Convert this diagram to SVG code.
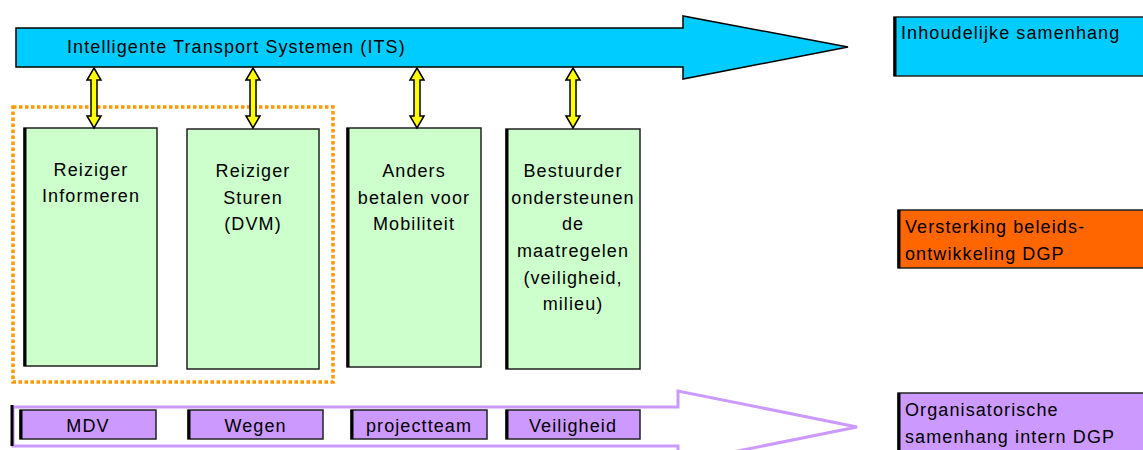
<svg xmlns="http://www.w3.org/2000/svg" width="1143" height="450" viewBox="0 0 1143 450">
<style>
text{font-family:"Liberation Sans",Arial,sans-serif;font-size:18px;letter-spacing:1.1px;fill:#000}
.c{text-anchor:middle}
.green{fill:#CCFFCC;stroke:#222;stroke-width:1.5}
.purple{fill:#CC99FF;stroke:#222;stroke-width:1.5}
.shadow{stroke:#000;stroke-width:3}
.dbl{fill:#FFFF00;stroke:#000;stroke-width:1.5;stroke-linejoin:miter}
</style>
<rect width="1143" height="450" fill="#fff"/>

<g id="its-arrow">
<polygon points="16,28 683,28 683,16 848,47 683,79 683,67 16,67" fill="#00CCFF" stroke="#000" stroke-width="1.5"/>
<text x="67" y="53">Intelligente Transport Systemen (ITS)</text>
</g>

<g id="org-arrow">
<polygon points="13,407 678,407 678,391 857,427 678,463 678,446 13,446" fill="#fff" stroke="#CC99FF" stroke-width="3"/>
<line x1="12" y1="405" x2="12" y2="446" class="shadow" stroke-width="1.5"/>
</g>

<g id="group-frame">
<rect x="13" y="107" width="320" height="275" fill="none" stroke="#FF9900" stroke-width="3.5" stroke-dasharray="3.5 2.5"/>
</g>

<g id="node-reiziger-informeren">
<rect x="24" y="128" width="133" height="238" class="green"/>
<line x1="25" y1="128" x2="25" y2="366" class="shadow"/>
<text class="c" x="91" y="176">Reiziger</text>
<text class="c" x="91" y="202">Informeren</text>
</g>

<g id="node-reiziger-sturen">
<rect x="187" y="129" width="132" height="240" class="green"/>
<text class="c" x="253" y="177">Reiziger</text>
<text class="c" x="253" y="203.5">Sturen</text>
<text class="c" x="253" y="230">(DVM)</text>
</g>

<g id="node-anders-betalen">
<rect x="347" y="128" width="134" height="239" class="green"/>
<line x1="348" y1="128" x2="348" y2="367" class="shadow"/>
<text class="c" x="414" y="177">Anders</text>
<text class="c" x="414" y="203.5">betalen voor</text>
<text class="c" x="414" y="230">Mobiliteit</text>
</g>

<g id="node-bestuurder">
<rect x="506" y="129" width="134" height="240" class="green"/>
<line x1="507" y1="129" x2="507" y2="369" class="shadow"/>
<text class="c" x="573" y="177">Bestuurder</text>
<text class="c" x="573" y="203.7">ondersteunen</text>
<text class="c" x="573" y="230.3">de</text>
<text class="c" x="573" y="257">maatregelen</text>
<text class="c" x="573" y="283.7">(veiligheid,</text>
<text class="c" x="573" y="310.3">milieu)</text>
</g>

<g id="node-mdv">
<rect x="20" y="410" width="136" height="29" class="purple"/>
<line x1="21" y1="410" x2="21" y2="439" class="shadow"/>
<text class="c" x="88" y="432">MDV</text>
</g>
<g id="node-wegen">
<rect x="188" y="410" width="135" height="29" class="purple"/>
<line x1="189" y1="410" x2="189" y2="439" class="shadow"/>
<text class="c" x="255.5" y="432">Wegen</text>
</g>
<g id="node-projectteam">
<rect x="351" y="410" width="136" height="29" class="purple"/>
<line x1="352" y1="410" x2="352" y2="439" class="shadow"/>
<text class="c" x="419" y="432">projectteam</text>
</g>
<g id="node-veiligheid">
<rect x="506" y="410" width="134" height="29" class="purple"/>
<line x1="507" y1="410" x2="507" y2="439" class="shadow"/>
<text class="c" x="573" y="432">Veiligheid</text>
</g>

<g id="legend-inhoudelijk">
<rect x="894" y="17" width="260" height="59" fill="#00CCFF" stroke="#222" stroke-width="1.5"/>
<line x1="895" y1="17" x2="895" y2="76" class="shadow"/>
<text x="901" y="39">Inhoudelijke samenhang</text>
</g>
<g id="legend-versterking">
<rect x="898" y="210" width="260" height="58" fill="#FF6600" stroke="#222" stroke-width="1.5"/>
<line x1="899" y1="210" x2="899" y2="268" class="shadow"/>
<text x="905" y="233">Versterking beleids-</text>
<text x="905" y="260">ontwikkeling DGP</text>
</g>
<g id="legend-organisatorisch">
<rect x="898" y="393" width="260" height="70" fill="#CC99FF" stroke="#222" stroke-width="1.5"/>
<line x1="899" y1="393" x2="899" y2="463" class="shadow"/>
<text x="905" y="416">Organisatorische</text>
<text x="905" y="443">samenhang intern DGP</text>
</g>

<g id="connectors">
<polygon class="dbl" points="94,68 101,80 97,80 97,116 101,116 94,128 87,116 91,116 91,80 87,80"/>
<polygon class="dbl" points="253,68 260,80 256,80 256,116 260,116 253,128 246,116 250,116 250,80 246,80"/>
<polygon class="dbl" points="417,68 424,80 420,80 420,116 424,116 417,128 410,116 414,116 414,80 410,80"/>
<polygon class="dbl" points="573,68 580,80 576,80 576,116 580,116 573,128 566,116 570,116 570,80 566,80"/>
</g>
</svg>
